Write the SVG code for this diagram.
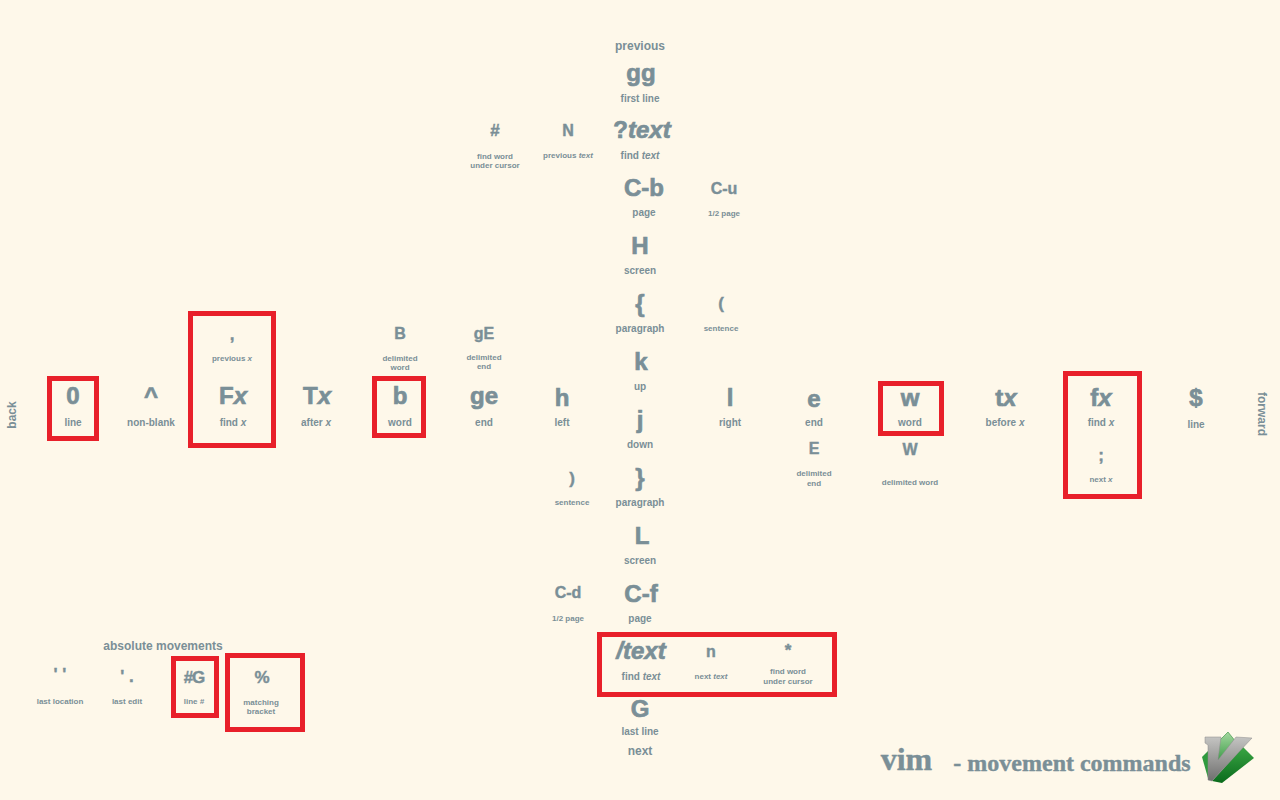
<svg xmlns="http://www.w3.org/2000/svg" width="1280" height="800" viewBox="0 0 1280 800">
<defs>
<linearGradient id="grn" x1="0" y1="0" x2="0" y2="1"><stop offset="0" stop-color="#3aa544"/><stop offset="1" stop-color="#0a6b1c"/></linearGradient>
<linearGradient id="lgr" x1="0" y1="0" x2="0" y2="1"><stop offset="0" stop-color="#a5d8a0"/><stop offset="1" stop-color="#3f9d4a"/></linearGradient>
<linearGradient id="gry" x1="0" y1="0" x2="0" y2="1"><stop offset="0" stop-color="#c4c4c2"/><stop offset="1" stop-color="#6f6f6e"/></linearGradient>
</defs>
<style>
text{font-family:"Liberation Sans",Arial,sans-serif;font-weight:bold;fill:#7a8f97;text-anchor:middle}
.x{font-size:24px;stroke:#7a8f97;stroke-width:.7}.m{font-size:17px;stroke:#7a8f97;stroke-width:.4}.s{font-size:16px;stroke:#7a8f97;stroke-width:.4}.l{font-size:10px}.t{font-size:8px}.h{font-size:12px}
.i{font-style:italic}
.r{fill:none;stroke:#e8202a;stroke-width:5}
.v{font-family:"Liberation Serif",serif;stroke:#7a8f97;stroke-width:.4}
</style>
<rect id="background" width="1280" height="800" fill="#fef8ea"/>
<g id="connectors"></g>
<g id="highlights">
<rect class="r" x="49.5" y="378.5" width="47" height="60"/>
<rect class="r" x="190.5" y="313.5" width="83" height="132"/>
<rect class="r" x="374.5" y="378.5" width="49" height="57"/>
<rect class="r" x="880.5" y="383.5" width="61" height="50"/>
<rect class="r" x="1065.5" y="373.5" width="74" height="123"/>
<rect class="r" x="173.5" y="658.5" width="43" height="57"/>
<rect class="r" x="227.5" y="655.5" width="75" height="74"/>
<rect class="r" x="599.5" y="634.5" width="235" height="60"/>
</g>
<g id="n-back"><text class="h" transform="translate(16,415) rotate(-90)">back</text></g>
<g id="n-forward"><text class="h" transform="translate(1258,414) rotate(90)">forward</text></g>
<g id="n-0"><text class="x" x="73" y="404">0</text><text class="l" x="73" y="426">line</text></g>
<g id="n-caret"><text class="x" x="151" y="404">^</text><text class="l" x="151" y="426">non-blank</text></g>
<g id="n-Fx"><text class="x" x="233" y="404">F<tspan class="i">x</tspan></text><text class="l" x="233" y="426">find <tspan class="i">x</tspan></text></g>
<g id="n-comma"><text class="m" x="232" y="340">,</text><text class="t" x="232" y="361">previous <tspan class="i">x</tspan></text></g>
<g id="n-Tx"><text class="x" x="317" y="404">T<tspan class="i">x</tspan></text><text class="l" x="316" y="426">after <tspan class="i">x</tspan></text></g>
<g id="n-b"><text class="x" x="400" y="404">b</text><text class="l" x="400" y="426">word</text></g>
<g id="n-B"><text class="s" x="400" y="339">B</text><text class="t" x="400" y="361">delimited</text><text class="t" x="400" y="370">word</text></g>
<g id="n-ge"><text class="x" x="484" y="404">ge</text><text class="l" x="484" y="426">end</text></g>
<g id="n-gE"><text class="s" x="484" y="339">gE</text><text class="t" x="484" y="360">delimited</text><text class="t" x="484" y="369">end</text></g>
<g id="n-h"><text class="x" x="562" y="406">h</text><text class="l" x="562" y="426">left</text></g>
<g id="n-l"><text class="x" x="730" y="406">l</text><text class="l" x="730" y="426">right</text></g>
<g id="n-e"><text class="x" x="814" y="407">e</text><text class="l" x="814" y="426">end</text></g>
<g id="n-E"><text class="s" x="814" y="454">E</text><text class="t" x="814" y="476">delimited</text><text class="t" x="814" y="486">end</text></g>
<g id="n-w"><text class="x" x="910" y="406">w</text><text class="l" x="910" y="426">word</text></g>
<g id="n-W"><text class="s" x="910" y="455">W</text><text class="t" x="910" y="485">delimited word</text></g>
<g id="n-tx"><text class="x" x="1006" y="406">t<tspan class="i">x</tspan></text><text class="l" x="1005" y="426">before <tspan class="i">x</tspan></text></g>
<g id="n-fx"><text class="x" x="1101" y="406">f<tspan class="i">x</tspan></text><text class="l" x="1101" y="426">find <tspan class="i">x</tspan></text></g>
<g id="n-semi"><text class="m" x="1101" y="461">;</text><text class="t" x="1101" y="482">next <tspan class="i">x</tspan></text></g>
<g id="n-dollar"><text class="x" x="1196" y="406">$</text><text class="l" x="1196" y="428">line</text></g>
<g id="n-previous"><text class="h" x="640" y="50">previous</text></g>
<g id="n-gg"><text class="x" x="641" y="81">gg</text><text class="l" x="640" y="102">first line</text></g>
<g id="n-qtext"><text class="x" x="642" y="138">?<tspan class="i">text</tspan></text><text class="l" x="640" y="159">find <tspan class="i">text</tspan></text></g>
<g id="n-hash"><text class="m" x="495" y="136">#</text><text class="t" x="495" y="159">find word</text><text class="t" x="495" y="168">under cursor</text></g>
<g id="n-N"><text class="s" x="568" y="136">N</text><text class="t" x="568" y="158">previous <tspan class="i">text</tspan></text></g>
<g id="n-Cb"><text class="x" x="644" y="196">C-b</text><text class="l" x="644" y="216">page</text></g>
<g id="n-Cu"><text class="s" x="724" y="194">C-u</text><text class="t" x="724" y="216">1/2 page</text></g>
<g id="n-H"><text class="x" x="640" y="254">H</text><text class="l" x="640" y="274">screen</text></g>
<g id="n-brace1"><text class="x" x="640" y="312">{</text><text class="l" x="640" y="332">paragraph</text></g>
<g id="n-paren1"><text class="m" x="721" y="309">(</text><text class="t" x="721" y="331">sentence</text></g>
<g id="n-k"><text class="x" x="641" y="370">k</text><text class="l" x="640" y="390">up</text></g>
<g id="n-j"><text class="x" x="640" y="428">j</text><text class="l" x="640" y="448">down</text></g>
<g id="n-brace2"><text class="x" x="640" y="486">}</text><text class="l" x="640" y="506">paragraph</text></g>
<g id="n-paren2"><text class="m" x="572" y="484">)</text><text class="t" x="572" y="505">sentence</text></g>
<g id="n-L"><text class="x" x="642" y="544">L</text><text class="l" x="640" y="564">screen</text></g>
<g id="n-Cf"><text class="x" x="641" y="602">C-f</text><text class="l" x="640" y="622">page</text></g>
<g id="n-Cd"><text class="s" x="568" y="598">C-d</text><text class="t" x="568" y="621">1/2 page</text></g>
<g id="n-stext"><text class="x i" x="641" y="659">/text</text><text class="l" x="641" y="680">find <tspan class="i">text</tspan></text></g>
<g id="n-n"><text class="s" x="711" y="657">n</text><text class="t" x="711" y="679">next <tspan class="i">text</tspan></text></g>
<g id="n-star"><text class="m" x="788" y="656">*</text><text class="t" x="788" y="674">find word</text><text class="t" x="788" y="684">under cursor</text></g>
<g id="n-G"><text class="x" x="640" y="717">G</text><text class="l" x="640" y="735">last line</text></g>
<g id="n-next"><text class="h" x="640" y="755">next</text></g>
<g id="n-absolute"><text class="h" x="163" y="650">absolute movements</text></g>
<g id="n-lastloc"><text class="m" x="60" y="680">' '</text><text class="t" x="60" y="704">last location</text></g>
<g id="n-lastedit"><text class="m" x="127" y="682">' .</text><text class="t" x="127" y="704">last edit</text></g>
<g id="n-lineG"><text class="m" x="194" y="683" letter-spacing="-1">#G</text><text class="t" x="194" y="704">line <tspan class="i">#</tspan></text></g>
<g id="n-percent"><text class="m" x="262" y="683">%</text><text class="t" x="261" y="705">matching</text><text class="t" x="261" y="714">bracket</text></g>
<g id="title"><text class="v" x="906.500" y="770" style="font-size:32px">vim</text><text class="v" x="1072" y="771" style="font-size:24px">- movement commands</text></g>
<g id="logo">
<polygon points="1202,757 1208,751 1208,778" fill="#2f9a3e"/>
<polygon points="1243,747 1254,758 1222,783 1212,781" fill="url(#grn)"/>
<polygon points="1218,742 1228,732 1236,742 1218,760" fill="url(#lgr)" stroke="#2f8b3a" stroke-width=".6"/>
<polygon points="1205,737 1221,737 1218,760 1236,737 1252,738 1212,781 1208,780 1208,745 1205,743" fill="url(#gry)" stroke="#8b8b8a" stroke-width=".5"/>
</g>
</svg>
